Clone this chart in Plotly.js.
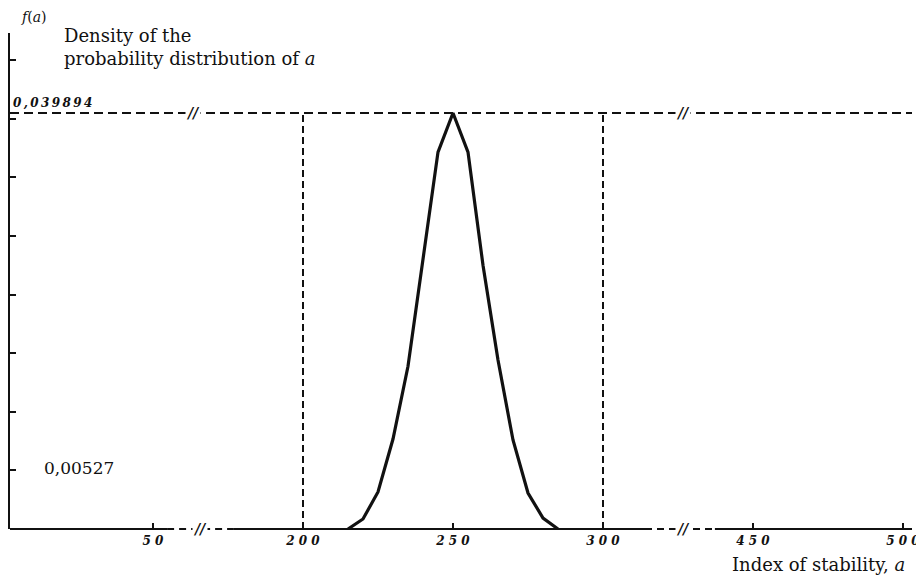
<!DOCTYPE html>
<html>
<head>
<meta charset="utf-8">
<script src="https://cdn.plot.ly/plotly-3.0.1.min.js"></script>
<style>html,body{margin:0;padding:0;background:#fff;}#chart{width:916px;height:576px;}</style>
</head>
<body>
<div id="chart"></div>
<script>
// ---- data ----
const alphaValues = [215, 220, 225, 230, 235, 240, 245, 250, 255, 260, 265, 270, 275, 280, 285];
const densityValues = [0, 0.00096, 0.00355, 0.00863, 0.0156, 0.0260, 0.03615, 0.039894, 0.03615, 0.0253, 0.0162, 0.00854, 0.00345, 0.00105, 0];
const xTickValues = [50, 200, 250, 300, 450, 500];
const xTickLabels = ['5 0', '2 0 0', '2 5 0', '3 0 0', '4 5 0', '5 0 0'];
const yTickValues = [0.00562, 0.01124, 0.01686, 0.02248, 0.0281, 0.03372, 0.03934, 0.04496];
const peakDensity = 0.039894;
const peakLabel = '0,039894';
const markedLabel = '0,00527';
const lowerBound = 200;
const upperBound = 300;

// ---- broken axis: three segments shown on one linear scale ----
function toU(v) { return v <= 100 ? v : (v <= 350 ? v - 100 : v - 200); }
const uRange = [2.333, 303];
const yRange = [0, 0.04757];
const xp = u => (u - uRange[0]) / (uRange[1] - uRange[0]);
const yp = v => (v - yRange[0]) / (yRange[1] - yRange[0]);

const serif = 'DejaVu Serif, serif';
const black = '#111';

const shapes = [];
function seg(u0, v0, u1, v1, dash, w) {
  shapes.push({type: 'line', xref: 'paper', yref: 'paper',
    x0: xp(u0), y0: yp(v0), x1: xp(u1), y1: yp(v1),
    line: {color: black, width: w || 2, dash: dash || 'solid'}});
}
// x axis with breaks
seg(uRange[0], 0, 54.7, 0);
seg(54.7, 0, 76.7, 0, '7px,5px');
seg(76.7, 0, 214, 0);
seg(214, 0, 237.3, 0, '7px,5px');
seg(237.3, 0, uRange[1], 0);
// top dashed line at the peak density
seg(uRange[0], peakDensity, uRange[1], peakDensity, '9px,5px');
// vertical dashed bounds
seg(toU(lowerBound), 0, toU(lowerBound), peakDensity, '7px,4px');
seg(toU(upperBound), 0, toU(upperBound), peakDensity, '7px,4px');

const breakMark = (u, v) => ({xref: 'paper', yref: 'paper', x: xp(u), y: yp(v),
  text: '<b><i>//</i></b>', showarrow: false, bgcolor: '#fff', borderpad: 0,
  font: {family: serif, size: 14, color: black}, xanchor: 'center', yanchor: 'middle'});

const annotations = [
  breakMark(63.3, peakDensity), breakMark(226.7, peakDensity),
  breakMark(65.7, 0), breakMark(226.7, 0),
  {xref: 'paper', yref: 'paper', x: (19 - 10) / 902, y: (529 - 17) / 496,
   text: '<i>f</i>(<i>a</i>)', showarrow: false, xanchor: 'left', yanchor: 'middle',
   font: {family: serif, size: 14, color: black}},
  {xref: 'paper', yref: 'paper', x: (62 - 10) / 902, y: (529 - 35) / 496,
   text: 'Density of the', showarrow: false, xanchor: 'left', yanchor: 'middle',
   font: {family: serif, size: 18, color: black}},
  {xref: 'paper', yref: 'paper', x: (62 - 10) / 902, y: (529 - 58) / 496,
   text: 'probability distribution of <i>a</i>', showarrow: false, xanchor: 'left', yanchor: 'middle',
   font: {family: serif, size: 18, color: black}},
  {xref: 'paper', yref: 'paper', x: (11 - 10) / 902, y: yp(peakDensity),
   text: '<b><i>' + peakLabel.split('').join('\u2009') + '</i></b>', showarrow: false,
   xanchor: 'left', yanchor: 'bottom', yshift: 1,
   font: {family: serif, size: 12, color: black}},
  {xref: 'paper', yref: 'paper', x: (42 - 10) / 902, y: yp(yTickValues[0]),
   text: markedLabel, showarrow: false, xanchor: 'left', yanchor: 'middle', yshift: 2,
   font: {family: serif, size: 17, color: black}},
  {xref: 'paper', yref: 'paper', x: (907 - 10) / 902, y: (529 - 564) / 496,
   text: 'Index of stability, <i>a</i>', showarrow: false, xanchor: 'right', yanchor: 'middle',
   font: {family: serif, size: 18, color: black}}
];

const trace = {
  x: alphaValues.map(toU), y: densityValues, type: 'scatter', mode: 'lines',
  line: {color: black, width: 3.2}, cliponaxis: false, hoverinfo: 'skip'
};

const layout = {
  width: 916, height: 576,
  margin: {l: 10, r: 4, t: 33, b: 47},
  paper_bgcolor: '#fff', plot_bgcolor: '#fff',
  showlegend: false,
  xaxis: {range: uRange, showgrid: false, zeroline: false, showline: false,
    tickmode: 'array', tickvals: xTickValues.map(toU), ticktext: xTickLabels,
    ticks: 'inside', ticklen: 6, tickwidth: 2, tickcolor: black,
    ticklabelstandoff: 3, ticklabeloverflow: 'allow',
    tickfont: {family: serif, size: 12, color: black, weight: 'bold', style: 'italic'}},
  yaxis: {range: yRange, showgrid: false, zeroline: false, showline: true, linewidth: 2, linecolor: black,
    tickmode: 'array', tickvals: yTickValues, showticklabels: false,
    ticks: 'inside', ticklen: 6, tickwidth: 2, tickcolor: black},
  shapes: shapes,
  annotations: annotations
};

Plotly.newPlot('chart', [trace], layout, {displayModeBar: false, staticPlot: true});
</script>
</body>
</html>
